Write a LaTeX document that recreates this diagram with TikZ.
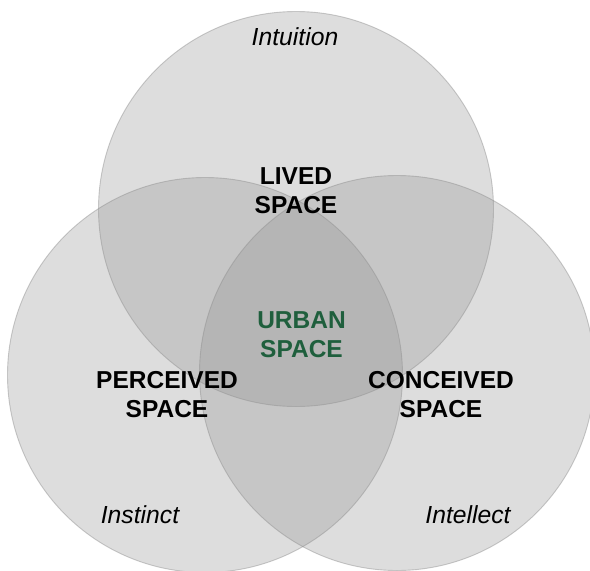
\documentclass[tikz,border=0pt]{standalone}
\usepackage{fontspec}
\setmainfont{Liberation Sans}
\definecolor{circfill}{HTML}{919191}
\definecolor{circline}{HTML}{8C8C8C}
\definecolor{urbangreen}{HTML}{1F5F3D}
\begin{document}
\begin{tikzpicture}[x=1pt,y=-1pt,
  venn/.style={fill=circfill,fill opacity=0.3,draw=circline,draw opacity=0.45,line width=0.9pt},
  spacelabel/.style={font=\fontsize{24.5}{29}\selectfont\bfseries,align=center,inner sep=0pt,anchor=north},
  modelabel/.style={font=\fontsize{24.7}{29}\selectfont\itshape,inner sep=0pt,anchor=base}]
\useasboundingbox (0,0) rectangle (590,571);
\fill[white] (0,0) rectangle (590,571);
\begin{scope}
\clip (0,0) rectangle (590,571);
\path[venn] (296,209) circle[radius=197.5];
\path[venn] (205,375) circle[radius=197.5];
\path[venn] (397,373) circle[radius=197.5];
\end{scope}
\node[modelabel] (intuition) at (295,45) {Intuition};
\node[modelabel] (instinct) at (140,523.3) {Instinct};
\node[modelabel] (intellect) at (468,523.3) {Intellect};
\node[spacelabel] (lived) at (296,167.3) {LIVED\\SPACE};
\node[spacelabel,text=urbangreen] (urban) at (301.5,311.8) {URBAN\\SPACE};
\node[spacelabel] (perceived) at (167,370.8) {PERCEIVED\\SPACE};
\node[spacelabel] (conceived) at (441,370.8) {CONCEIVED\\SPACE};
\end{tikzpicture}
\end{document}
